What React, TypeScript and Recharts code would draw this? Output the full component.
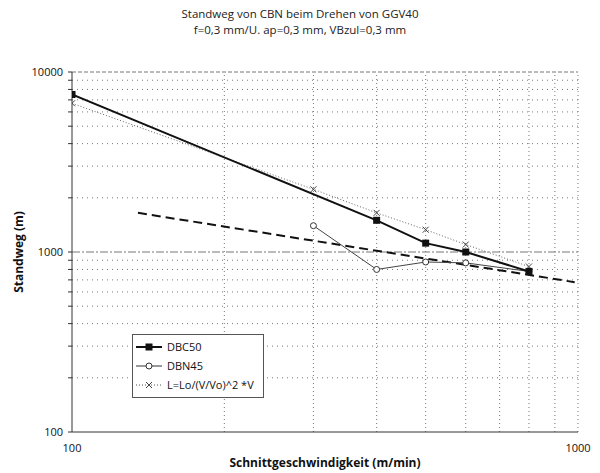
import React from "react";
import {
  LineChart,
  Line,
  XAxis,
  YAxis,
  ReferenceLine,
  Legend,
} from "recharts";

// Schnittgeschwindigkeit (m/min) / Standweg (m)
const dbc50V = [100, 400, 500, 600, 800];
const dbc50L = [7500, 1500, 1120, 1000, 780];

const dbn45V = [300, 400, 500, 600, 800];
const dbn45L = [1400, 800, 880, 870, 780];

const formelV = [100, 300, 400, 500, 600, 800];
const formelL = [6700, 2230, 1650, 1330, 1100, 830];

const trendV = [135, 985];
const trendL = [1650, 680];

const xTicks = [100, 1000];
const yTicks = [100, 200, 300, 400, 500, 600, 700, 800, 900, 1000, 2000, 3000, 4000, 5000, 6000, 7000, 8000, 9000, 10000];
const xGrid = [200, 300, 400, 500, 600, 700, 800, 900];
const yGrid = [200, 300, 400, 500, 600, 700, 800, 900, 2000, 3000, 4000, 5000, 6000, 7000, 8000, 9000];

const FONT = "'Open Sans', 'DejaVu Sans', sans-serif";

const toRows = (v: number[], l: number[]) => v.map((x, i) => ({ v: x, l: l[i] }));

const dbc50 = toRows(dbc50V, dbc50L);
const dbn45 = toRows(dbn45V, dbn45L);
const formel = toRows(formelV, formelL);
const trend = toRows(trendV, trendL);

const SquareDot = (props: any) => {
  const { cx, cy } = props;
  if (cx == null || cy == null) return null;
  return <rect x={cx - 3.5} y={cy - 3.5} width={7} height={7} fill="#111" />;
};

const CircleDot = (props: any) => {
  const { cx, cy } = props;
  if (cx == null || cy == null) return null;
  return <circle cx={cx} cy={cy} r={3} fill="#fff" stroke="#333" strokeWidth={1} />;
};

const CrossDot = (props: any) => {
  const { cx, cy } = props;
  if (cx == null || cy == null) return null;
  return (
    <g stroke="#444" strokeWidth={1}>
      <line x1={cx - 3} y1={cy - 3} x2={cx + 3} y2={cy + 3} />
      <line x1={cx - 3} y1={cy + 3} x2={cx + 3} y2={cy - 3} />
    </g>
  );
};

const legendItems = [
  { label: "DBC50", color: "#111", width: 2, dash: undefined, Dot: SquareDot },
  { label: "DBN45", color: "#333", width: 1, dash: undefined, Dot: CircleDot },
  { label: "L=Lo/(V/Vo)^2 *V", color: "#555", width: 1, dash: "1 2", Dot: CrossDot },
];

const LegendBox = () => (
  <div
    style={{
      border: "1px solid #555",
      background: "#fff",
      width: 130,
      padding: "2px 0 3px 0",
      fontFamily: FONT,
      fontSize: 11,
      color: "#111",
    }}
  >
    {legendItems.map((it) => (
      <div key={it.label} style={{ display: "flex", alignItems: "center", height: 19 }}>
        <svg width={32} height={10}>
          <line x1={3} y1={5} x2={29} y2={5} stroke={it.color} strokeWidth={it.width} strokeDasharray={it.dash} />
          <it.Dot cx={16} cy={5} />
        </svg>
        <span style={{ marginLeft: 2 }}>{it.label}</span>
      </div>
    ))}
  </div>
);

const fmtY = (v: number) => (v === 100 || v === 1000 || v === 10000 ? String(v) : "");

export default function App() {
  return (
    <div style={{ position: "absolute", left: 0, top: 0, width: 600, height: 473, background: "#fff" }}>
      <div
        style={{
          position: "absolute",
          left: 0,
          top: 6,
          width: 600,
          textAlign: "center",
          fontFamily: FONT,
          fontSize: 11.5,
          lineHeight: "16px",
          color: "#222",
        }}
      >
        <div>Standweg von CBN beim Drehen von GGV40</div>
        <div>f=0,3 mm/U. ap=0,3 mm, VBzul=0,3 mm</div>
      </div>
      <div
        style={{
          position: "absolute",
          left: 18,
          top: 252,
          transform: "translate(-50%, -50%) rotate(-90deg)",
          fontFamily: FONT,
          fontSize: 12,
          fontWeight: 700,
          color: "#111",
          whiteSpace: "nowrap",
        }}
      >
        Standweg (m)
      </div>
      <div
        style={{
          position: "absolute",
          left: 0,
          top: 454,
          width: 650,
          textAlign: "center",
          fontFamily: FONT,
          fontSize: 12,
          fontWeight: 700,
          color: "#111",
        }}
      >
        Schnittgeschwindigkeit (m/min)
      </div>
      <LineChart
        width={600}
        height={473}
        margin={{ top: 72, right: 22, bottom: 21, left: 12 }}
        style={{ position: "absolute", left: 0, top: 0 }}
      >
        <XAxis
          dataKey="v"
          type="number"
          scale="log"
          domain={[100, 1000]}
          ticks={xTicks}
          allowDataOverflow
          height={20}
          axisLine={{ stroke: "#333" }}
          tickLine={false}
          tickMargin={6}
          tick={{ fontFamily: FONT, fontSize: 11, fill: "#111" }}
        />
        <YAxis
          dataKey="l"
          type="number"
          scale="log"
          domain={[100, 10000]}
          ticks={yTicks}
          tickFormatter={fmtY}
          interval={0}
          allowDataOverflow
          width={60}
          axisLine={{ stroke: "#333" }}
          tickLine={{ stroke: "#333" }}
          tickSize={4}
          tickMargin={5}
          tick={{ fontFamily: FONT, fontSize: 11, fill: "#111" }}
        />
        {yGrid.map((y) => (
          <ReferenceLine key={"y" + y} y={y} stroke="#777" strokeDasharray="1 4" />
        ))}
        {xGrid.map((x) => (
          <ReferenceLine key={"x" + x} x={x} stroke="#777" strokeDasharray="1 3" />
        ))}
        <ReferenceLine y={1000} stroke="#777" strokeDasharray="8 2 2 2" />
        <ReferenceLine y={10000} stroke="#777" strokeDasharray="4 2" />
        <ReferenceLine x={1000} stroke="#777" strokeDasharray="1 3" />
        <Line
          data={trend}
          dataKey="l"
          stroke="#111"
          strokeWidth={2}
          strokeDasharray="9 5"
          dot={false}
          isAnimationActive={false}
        />
        <Line
          data={formel}
          dataKey="l"
          stroke="#666"
          strokeWidth={1}
          strokeDasharray="1 2"
          dot={<CrossDot />}
          isAnimationActive={false}
        />
        <Line
          data={dbn45}
          dataKey="l"
          stroke="#444"
          strokeWidth={1}
          dot={<CircleDot />}
          isAnimationActive={false}
        />
        <Line
          data={dbc50}
          dataKey="l"
          stroke="#111"
          strokeWidth={2}
          dot={<SquareDot />}
          isAnimationActive={false}
        />
      </LineChart>
      <div style={{ position: "absolute", left: 132, top: 334 }}>
        <LegendBox />
      </div>
    </div>
  );
}
